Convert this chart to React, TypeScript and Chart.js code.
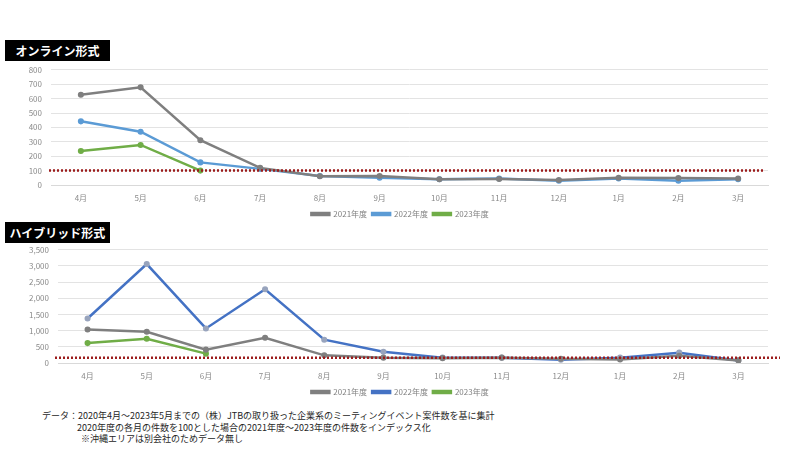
import React, { useEffect, useRef } from "react";
import { Chart, registerables } from "chart.js";

Chart.register(...registerables);

// Month labels (fiscal year starting in April)
const months = ["4月", "5月", "6月", "7月", "8月", "9月", "10月", "11月", "12月", "1月", "2月", "3月"];
const seriesNames = ["2021年度", "2022年度", "2023年度"];

// Online meetings (index, FY2020 = 100)
const online2021 = [627, 678, 311, 119, 61, 63, 40, 42, 35, 50, 48, 45];
const online2022 = [442, 370, 157, 112, 62, 50, 40, 45, 30, 45, 30, 40];
const online2023 = [236, 278, 100];
const onlineBaseline = 100;
const onlineTicks = [0, 100, 200, 300, 400, 500, 600, 700, 800];

// Hybrid meetings (index, FY2020 = 100)
const hybrid2021 = [1037, 966, 412, 781, 237, 165, 150, 165, 130, 110, 225, 80];
const hybrid2022 = [1376, 3060, 1068, 2278, 720, 350, 165, 165, 100, 165, 320, 80];
const hybrid2023 = [616, 750, 289];
const hybridBaseline = 160;
const hybridTicks = [0, 500, 1000, 1500, 2000, 2500, 3000, 3500];

const FONT = '"Noto Sans CJK JP", "Noto Sans", sans-serif';
const GRAY = "#7f7f7f";
const GREEN = "#70ad47";

type Cfg = {
  values: number[][];
  colors: string[];
  pointColors: string[];
  ticks: number[];
  baseline: number;
  axisWidth: number;
  padRight: number;
  lineExtendLeft: number;
  lineExtendRight: number;
};

// Dotted horizontal reference line across the plot
const baselinePlugin = {
  id: "baseline",
  afterDatasetsDraw(chart: any, _args: any, opts: any) {
    const y = chart.scales.y.getPixelForValue(opts.value);
    const { left, right } = chart.chartArea;
    const ctx = chart.ctx;
    ctx.save();
    ctx.strokeStyle = "#9c1c1c";
    ctx.lineWidth = 2.5;
    ctx.setLineDash([2, 2]);
    ctx.beginPath();
    ctx.moveTo(left + opts.extLeft, y);
    ctx.lineTo(right + opts.extRight, y);
    ctx.stroke();
    ctx.restore();
  },
};

function LineChart({ cfg, style }: { cfg: Cfg; style: React.CSSProperties }) {
  const ref = useRef<HTMLCanvasElement>(null);
  useEffect(() => {
    if (!ref.current) return;
    const tickValues = cfg.ticks;
    const chart = new Chart(ref.current, {
      type: "line",
      data: {
        labels: months,
        datasets: cfg.values.map((v, i) => ({
          label: seriesNames[i],
          data: v,
          borderColor: cfg.colors[i],
          backgroundColor: cfg.colors[i],
          pointBackgroundColor: cfg.pointColors[i],
          pointBorderColor: cfg.pointColors[i],
          borderWidth: 2.5,
          pointRadius: 1.8,
          pointStyle: "circle",
          tension: 0,
        })),
      },
      options: {
        animation: false,
        responsive: false,
        layout: { padding: 0 },
        scales: {
          x: {
            offset: true,
            grid: { display: false, drawTicks: false, offset: true },
            border: { display: true, color: "#d9d9d9" },
            ticks: { color: "#8a8a8a", font: { family: FONT, size: 8 }, padding: 8, maxRotation: 0, autoSkip: false },
            afterFit: (s: any) => {
              s.height = 20;
            },
          },
          y: {
            min: tickValues[0],
            max: tickValues[tickValues.length - 1],
            grid: { color: "#e3e3e3", drawTicks: false },
            border: { display: false },
            ticks: {
              color: "#8a8a8a",
              font: { family: FONT, size: 8 },
              padding: 9,
              callback: (v: any) => Number(v).toLocaleString("en-US"),
            },
            afterBuildTicks: (s: any) => {
              s.ticks = tickValues.map((value) => ({ value }));
            },
            afterFit: (s: any) => {
              s.width = cfg.axisWidth;
            },
          },
          // empty right-hand gutter so the legend stays centred on the full width
          yr: {
            position: "right",
            display: true,
            grid: { display: false, drawTicks: false },
            border: { display: false },
            ticks: { display: false },
            afterFit: (s: any) => {
              s.width = cfg.padRight;
            },
          },
        },
        plugins: {
          legend: {
            position: "bottom",
            labels: {
              boxWidth: 18,
              boxHeight: 2,
              padding: 5,
              color: "#7f7f7f",
              font: { family: FONT, size: 8 },
            },
          },
          tooltip: { enabled: false },
          baseline: { value: cfg.baseline, extLeft: cfg.lineExtendLeft, extRight: cfg.lineExtendRight },
        } as any,
      },
      plugins: [baselinePlugin],
    });
    return () => chart.destroy();
  }, [cfg]);
  return <canvas ref={ref} width={800} height={style.height as number} style={{ position: "absolute", left: 0, ...style }} />;
}

const onlineCfg: Cfg = {
  values: [online2021, online2022, online2023],
  colors: [GRAY, "#5b9bd5", GREEN],
  pointColors: [GRAY, "#5b9bd5", GREEN],
  ticks: onlineTicks,
  baseline: onlineBaseline,
  axisWidth: 51,
  padRight: 32,
  lineExtendLeft: -2,
  lineExtendRight: -5,
};

const hybridCfg: Cfg = {
  values: [hybrid2021, hybrid2022, hybrid2023],
  colors: [GRAY, "#4472c4", GREEN],
  pointColors: [GRAY, "#98a4bd", GREEN],
  ticks: hybridTicks,
  baseline: hybridBaseline,
  axisWidth: 58,
  padRight: 32,
  lineExtendLeft: -3,
  lineExtendRight: 12,
};

const titleStyle: React.CSSProperties = {
  position: "absolute",
  left: 5,
  width: 105,
  height: 21,
  background: "#000",
  color: "#fff",
  fontFamily: FONT,
  fontWeight: 700,
  fontSize: 12,
  lineHeight: "21px",
  textAlign: "center",
};

const noteStyle: React.CSSProperties = {
  position: "absolute",
  fontFamily: FONT,
  fontSize: 9,
  color: "#262626",
  whiteSpace: "nowrap",
  lineHeight: "12px",
};

export default function App() {
  return (
    <div style={{ position: "fixed", left: 0, top: 0, width: 800, height: 450, background: "#fff", overflow: "hidden" }}>
      <LineChart cfg={onlineCfg} style={{ top: 56, height: 172 }} />
      <div style={{ ...titleStyle, top: 40 }}>オンライン形式</div>
      <LineChart cfg={hybridCfg} style={{ top: 236, height: 170 }} />
      <div style={{ ...titleStyle, top: 222 }}>ハイブリッド形式</div>
      <div style={{ ...noteStyle, left: 42, top: 410 }}>
        データ：2020年4月～2023年5月までの（株）JTBの取り扱った企業系のミーティングイベント案件数を基に集計
      </div>
      <div style={{ ...noteStyle, left: 77, top: 422 }}>
        2020年度の各月の件数を100とした場合の2021年度～2023年度の件数をインデックス化
      </div>
      <div style={{ ...noteStyle, left: 81, top: 433 }}>※沖縄エリアは別会社のためデータ無し</div>
    </div>
  );
}
